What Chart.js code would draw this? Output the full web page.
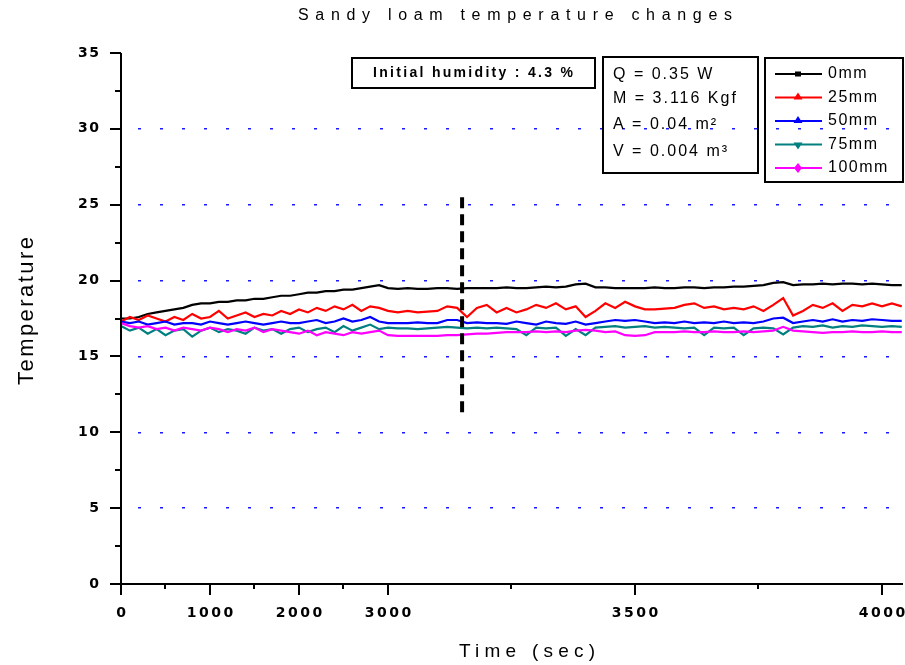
<!DOCTYPE html>
<html><head><meta charset="utf-8">
<script src="https://cdn.jsdelivr.net/npm/chart.js@4/dist/chart.umd.min.js"></script>
<style>html,body{margin:0;padding:0;background:#fff}#wrap{width:905px;height:665px}</style>
</head><body><div id="wrap"><canvas id="c" width="905" height="665"></canvas></div>
<script>
// ---------- data ----------
const times = [0,100,200,300,400,500,600,700,800,900,1000,1100,1200,1300,1400,1500,1600,1700,1800,1900,2000,2100,2200,2300,2400,2500,2600,2700,2800,2900,3000,
3020,3040,3060,3080,3100,3120,3140,3160,3180,3200,3220,3240,3260,3280,3300,3320,3340,3360,3380,3400,3420,3440,3460,3480,3500,3520,3540,3560,3580,3600,3620,3640,3660,3680,3700,3720,3740,3760,3780,3800,3820,3840,3860,3880,3900,3920,3940,3960,3980,4000,4020,4040];
const temp0mm = [17.5,17.5,17.6,17.8,17.9,18.0,18.1,18.2,18.4,18.5,18.5,18.6,18.6,18.7,18.7,18.8,18.8,18.9,19.0,19.0,19.1,19.2,19.2,19.3,19.3,19.4,19.4,19.5,19.6,19.7,19.5,
19.45,19.5,19.45,19.45,19.5,19.5,19.45,19.5,19.5,19.5,19.5,19.55,19.5,19.5,19.55,19.6,19.55,19.6,19.75,19.8,19.55,19.55,19.5,19.5,19.5,19.5,19.55,19.5,19.5,19.55,19.55,19.5,19.55,19.55,19.6,19.6,19.65,19.7,19.85,19.9,19.7,19.75,19.75,19.8,19.75,19.8,19.8,19.75,19.8,19.75,19.7,19.7];
const temp25mm = [17.3,17.6,17.4,17.7,17.5,17.3,17.6,17.4,17.8,17.5,17.6,18.0,17.5,17.7,17.9,17.6,17.8,17.7,18.0,17.8,18.1,17.9,18.2,18.0,18.3,18.1,18.4,18.0,18.3,18.2,18.0,
17.9,18.0,17.9,17.95,18.0,18.3,18.2,17.6,18.2,18.4,17.9,18.2,17.9,18.1,18.4,18.2,18.5,18.1,18.3,17.6,18.0,18.5,18.2,18.6,18.3,18.1,18.1,18.15,18.2,18.4,18.5,18.2,18.3,18.1,18.2,18.1,18.3,18.0,18.4,18.85,17.7,18.0,18.4,18.2,18.5,18.0,18.4,18.3,18.5,18.3,18.5,18.3];
const temp50mm = [17.3,17.2,17.3,17.1,17.2,17.3,17.1,17.2,17.2,17.1,17.3,17.2,17.1,17.2,17.3,17.2,17.1,17.2,17.3,17.2,17.2,17.3,17.4,17.2,17.3,17.5,17.3,17.4,17.6,17.3,17.2,
17.2,17.2,17.25,17.2,17.2,17.4,17.4,17.2,17.25,17.2,17.2,17.15,17.3,17.2,17.1,17.3,17.2,17.15,17.3,17.1,17.2,17.3,17.4,17.35,17.4,17.3,17.2,17.25,17.2,17.3,17.2,17.25,17.2,17.3,17.2,17.25,17.2,17.3,17.5,17.55,17.2,17.3,17.4,17.3,17.45,17.3,17.4,17.35,17.45,17.4,17.35,17.35];
const temp75mm = [17.0,16.7,16.9,16.5,16.8,16.4,16.7,16.8,16.3,16.7,16.9,16.6,16.8,16.7,16.5,16.9,16.7,16.8,16.5,16.8,16.9,16.6,16.8,16.9,16.6,17.0,16.7,16.9,17.1,16.8,16.9,
16.85,16.85,16.8,16.85,16.9,16.95,16.9,16.85,16.9,16.85,16.9,16.85,16.8,16.4,16.9,16.85,16.9,16.35,16.8,16.4,16.9,16.95,17.0,16.9,16.95,17.0,16.9,16.95,16.9,16.85,16.9,16.4,16.9,16.85,16.9,16.4,16.85,16.9,16.85,16.45,16.9,17.0,16.95,17.05,16.9,17.0,16.95,17.05,17.0,16.95,17.0,16.95];
const temp100mm = [17.2,17.0,16.9,17.0,16.8,16.9,16.7,16.9,16.8,16.7,16.9,16.8,16.6,16.8,16.7,16.9,16.6,16.8,16.7,16.6,16.5,16.7,16.4,16.6,16.5,16.4,16.6,16.5,16.6,16.7,16.4,
16.35,16.35,16.35,16.35,16.35,16.4,16.4,16.45,16.5,16.5,16.55,16.6,16.6,16.6,16.65,16.6,16.65,16.6,16.7,16.75,16.7,16.6,16.65,16.4,16.35,16.4,16.6,16.6,16.6,16.65,16.6,16.6,16.65,16.6,16.6,16.65,16.6,16.65,16.7,16.95,16.7,16.65,16.6,16.55,16.6,16.6,16.65,16.6,16.6,16.65,16.6,16.6];
const seriesNames = ['0mm','25mm','50mm','75mm','100mm'];
const markerTimes = [3150,3150];
const markerTemps = [25.5,11];
const xTickValues = [0,1000,2000,3000,3500,4000];
const xTickLabels = ['0','1000','2000','3000','3500','4000'];
const xMinorValues = [500,1500,2500,3250,3750];
const yTickValues = [0,5,10,15,20,25,30,35];
const yTickLabels = ['0','5','10','15','20','25','30','35'];
const yMinorValues = [2.5,7.5,12.5,17.5,22.5,27.5,32.5];
const chartTitle = 'Sandy loam temperature changes';
const xTitle = 'Time (sec)';
const yTitle = 'Temperature';
const noteHumidity = 'Initial humidity : 4.3 %';
const noteParams = ['Q = 0.35 W','M = 3.116 Kgf','A = 0.04 m\u00B2','V = 0.004 m\u00B3'];

// ---------- styles ----------
const colors = ['#000000','#ff0000','#0000ff','#008080','#ff00ff'];
const markers = ['square','tri','tri','triDown','diamond'];
const FONT = '"Liberation Sans", Arial, sans-serif';
const DFONT = '"DejaVu Sans", "Liberation Sans", sans-serif';

// broken time axis: 0-3000 compressed, 3000-4000 expanded
function axisPos(t){ return t <= 3000 ? t : 3000 + (t - 3000) * 5.551; }

const seriesVals = [temp0mm,temp25mm,temp50mm,temp75mm,temp100mm];
const datasets = seriesVals.map((vals,i)=>({
  label: seriesNames[i],
  data: times.map((t,k)=>({x: axisPos(t), y: vals[k]})),
  borderColor: colors[i], backgroundColor: colors[i],
  borderWidth: 2.2, pointRadius: 0, tension: 0, fill: false,
  order: [4,3,2,1,0][i]
}));
datasets.push({
  label: 'marker',
  data: markerTimes.map((t,k)=>({x: axisPos(t), y: markerTemps[k]})),
  borderColor: '#000', borderWidth: 4, borderDash: [11,6], pointRadius: 0, order: -1
});

function drawText(ctx, str, x, y, font, align, spacing, target){
  ctx.save();
  ctx.font = font; ctx.fillStyle = '#000'; ctx.textBaseline = 'middle'; ctx.textAlign = 'left';
  const hasLS = ('letterSpacing' in ctx);
  if (hasLS) ctx.letterSpacing = '0px';
  const w0 = ctx.measureText(str).width;
  const n = [...str].length;
  let sp = spacing;
  if (target) sp = Math.max(0, (target - w0) / Math.max(1, n - 1));
  if (!hasLS) sp = 0;
  const vis = w0 + sp * (n - 1);
  let left = x;
  if (align === 'center') left = x - vis / 2;
  else if (align === 'right') left = x - vis;
  if (hasLS) ctx.letterSpacing = sp + 'px';
  ctx.fillText(str, left, y);
  ctx.restore();
}

function drawMarker(ctx, type, x, y, color){
  ctx.save(); ctx.fillStyle = color; ctx.beginPath();
  if (type === 'square') { ctx.rect(x-3, y-2.5, 6, 5); }
  else if (type === 'tri') { ctx.moveTo(x, y-5); ctx.lineTo(x+4.5, y+2); ctx.lineTo(x-4.5, y+2); ctx.closePath(); }
  else if (type === 'triDown') { ctx.moveTo(x, y+5); ctx.lineTo(x+4.5, y-2); ctx.lineTo(x-4.5, y-2); ctx.closePath(); }
  else { ctx.moveTo(x, y-5); ctx.lineTo(x+4, y); ctx.lineTo(x, y+5); ctx.lineTo(x-4, y); ctx.closePath(); }
  ctx.fill(); ctx.restore();
}

const decor = {
  id: 'decor',
  afterDraw(chart){
    const ctx = chart.ctx, xs = chart.scales.x, ys = chart.scales.y, ca = chart.chartArea;
    ctx.save();
    ctx.strokeStyle = '#000'; ctx.lineWidth = 2; ctx.lineCap = 'butt';
    ctx.beginPath();
    ctx.moveTo(ca.left, ca.top); ctx.lineTo(ca.left, ca.bottom + 11);
    ctx.moveTo(ca.left - 10, ca.bottom); ctx.lineTo(ca.right, ca.bottom);
    ctx.stroke();
    ctx.beginPath();
    yTickValues.forEach(v=>{ const p = Math.round(ys.getPixelForValue(v)); ctx.moveTo(ca.left - 11, p); ctx.lineTo(ca.left, p); });
    yMinorValues.forEach(v=>{ const p = Math.round(ys.getPixelForValue(v)); ctx.moveTo(ca.left - 6, p); ctx.lineTo(ca.left, p); });
    xTickValues.forEach(v=>{ const p = Math.round(xs.getPixelForValue(axisPos(v))); ctx.moveTo(p, ca.bottom); ctx.lineTo(p, ca.bottom + 11); });
    xMinorValues.forEach(v=>{ const p = Math.round(xs.getPixelForValue(axisPos(v))); ctx.moveTo(p, ca.bottom); ctx.lineTo(p, ca.bottom + 5); });
    ctx.stroke();
    ctx.restore();
    const tf = 'bold 14px ' + DFONT;
    yTickValues.forEach((v,i)=> drawText(ctx, yTickLabels[i], ca.left - 22, ys.getPixelForValue(v), tf, 'right', 1.5));
    xTickValues.forEach((v,i)=> drawText(ctx, xTickLabels[i], xs.getPixelForValue(axisPos(v)), ca.bottom + 29, tf, 'center', 2.5));
    drawText(ctx, chartTitle, 515, 16, '16px ' + FONT, 'center', 0, 434);
    drawText(ctx, xTitle, 527, 652, '19px ' + FONT, 'center', 0, 136);
    ctx.save(); ctx.translate(27, 311); ctx.rotate(-Math.PI/2);
    drawText(ctx, yTitle, 0, 0, '22px ' + FONT, 'center', 0, 148);
    ctx.restore();
    ctx.save(); ctx.strokeStyle = '#000'; ctx.lineWidth = 2;
    ctx.strokeRect(352, 58, 243, 30);
    ctx.strokeRect(603, 57, 155, 116);
    ctx.strokeRect(765, 58, 138, 124);
    ctx.restore();
    drawText(ctx, noteHumidity, 473, 73, 'bold 14px ' + FONT, 'center', 0, 200);
    const py = [75, 99, 125, 152];
    noteParams.forEach((s,i)=> drawText(ctx, s, 613, py[i], '16px ' + FONT, 'left', 2));
    seriesNames.forEach((name,i)=>{
      const y = 74 + i * 23.5;
      ctx.save(); ctx.strokeStyle = colors[i]; ctx.lineWidth = 2;
      ctx.beginPath(); ctx.moveTo(775, y); ctx.lineTo(822, y); ctx.stroke(); ctx.restore();
      drawMarker(ctx, markers[i], 798, y, colors[i]);
      drawText(ctx, name, 828, y, '16px ' + FONT, 'left', 1.5);
    });
  }
};

new Chart(document.getElementById('c'), {
  type: 'line',
  data: { datasets },
  options: {
    responsive: false, animation: false, devicePixelRatio: 1,
    layout: { padding: { top: 53, right: 2, left: 0, bottom: 0 } },
    plugins: { legend: { display: false }, tooltip: { enabled: false }, title: { display: false } },
    scales: {
      x: {
        type: 'linear', min: 0, max: 8787,
        afterBuildTicks: s => { s.ticks = xTickValues.map(v=>({value: axisPos(v)})); },
        ticks: { display: false }, grid: { display: false }, border: { display: false },
        afterFit: s => { s.height = 81; }
      },
      y: {
        type: 'linear', min: 0, max: 35,
        afterBuildTicks: s => { s.ticks = yTickValues.map(v=>({value: v})); },
        ticks: { display: false },
        grid: {
          drawTicks: false, lineWidth: 1.5,
          color: c => (c.tick && (c.tick.value === 0 || c.tick.value === 35)) ? 'rgba(0,0,0,0)' : '#1a1aff'
        },
        border: { display: false, dash: [3,19], dashOffset: 5 },
        afterFit: s => { s.width = 121; }
      }
    }
  },
  plugins: [decor]
});
</script>
</body></html>
